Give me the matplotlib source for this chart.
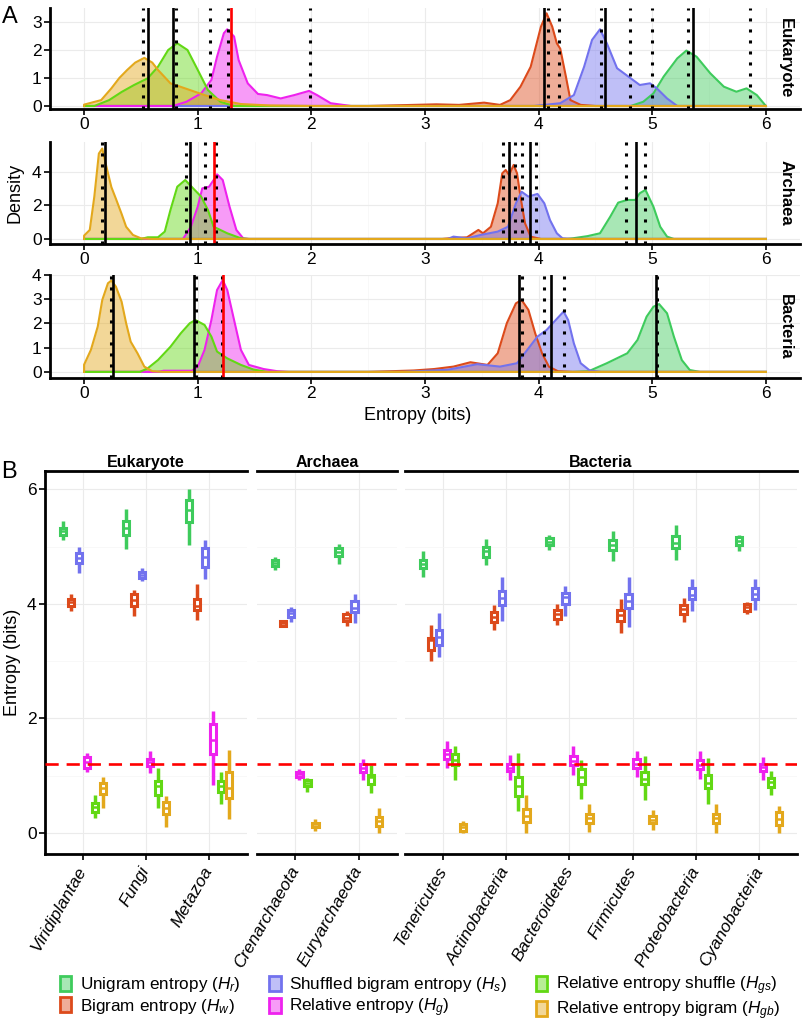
import matplotlib
matplotlib.use("Agg")
import matplotlib.pyplot as plt
from matplotlib.patches import Patch
from matplotlib.colors import to_rgba
from matplotlib.ticker import MultipleLocator

plt.rcParams['font.family'] = ['Liberation Sans', 'DejaVu Sans']
plt.rcParams['mathtext.fontset'] = 'custom'
plt.rcParams['mathtext.rm'] = 'Liberation Sans'
plt.rcParams['mathtext.it'] = 'Liberation Sans:italic'

# ------------------------
# data
# ------------------------
measures = ['Unigram entropy ($H_r$)', 'Bigram entropy ($H_w$)',
            'Shuffled bigram entropy ($H_s$)', 'Relative entropy ($H_g$)',
            'Relative entropy shuffle ($H_{gs}$)', 'Relative entropy bigram ($H_{gb}$)']
colors = ['#3ecb5c', '#dc4a1b', '#7272ee', '#ee22ee', '#62d814', '#e3a81c']

# panel A: density curves, (entropy, density)
euk_r = [(0, 0), (4.81, 0), (4.92, 0.15), (5.01, 0.45), (5.10, 1.05), (5.22, 1.70), (5.30, 1.98),
         (5.39, 1.76), (5.51, 1.17), (5.63, 0.69), (5.74, 0.51), (5.83, 0.63), (5.92, 0.39), (6.0, 0)]
euk_w = [(0, 0), (2.5, 0), (2.9, 0.04), (3.1, 0.06), (3.3, 0.04), (3.52, 0.12), (3.66, 0.04),
         (3.75, 0.21), (3.84, 0.69), (3.93, 1.40), (4.02, 2.83), (4.07, 3.31), (4.12, 2.83),
         (4.16, 2.24), (4.19, 2.05), (4.24, 1.05), (4.28, 0.21), (4.37, 0.04), (4.5, 0), (6, 0)]
euk_s = [(0, 0), (3.96, 0), (4.19, 0.1), (4.31, 0.39), (4.40, 1.40), (4.47, 2.36), (4.54, 2.74),
         (4.60, 2.24), (4.69, 1.35), (4.81, 0.99), (4.89, 0.75), (4.98, 0.81), (5.04, 0.63),
         (5.13, 0.27), (5.22, 0), (6, 0)]
euk_g = [(0, 0), (0.78, 0), (0.9, 0.15), (1.03, 0.45), (1.12, 0.93), (1.17, 1.76), (1.23, 2.6),
         (1.26, 2.74), (1.32, 2.48), (1.36, 1.64), (1.44, 0.81), (1.53, 0.43), (1.61, 0.39),
         (1.73, 0.27), (1.85, 0.39), (1.98, 0.54), (2.05, 0.39), (2.17, 0.1), (2.35, 0), (6, 0)]
euk_gs = [(0, 0), (0.09, 0), (0.22, 0.21), (0.33, 0.5), (0.44, 0.75), (0.56, 0.99), (0.65, 1.40),
          (0.74, 2.0), (0.82, 2.24), (0.91, 2.0), (1.0, 1.29), (1.09, 0.57), (1.2, 0.15),
          (1.32, 0), (6, 0)]
euk_gb = [(0, 0), (0.0, 0.05), (0.15, 0.21), (0.24, 0.63), (0.31, 1.0), (0.38, 1.29), (0.45, 1.55),
          (0.53, 1.72), (0.60, 1.55), (0.65, 1.29), (0.76, 0.81), (0.91, 0.60), (1.06, 0.39),
          (1.20, 0.21), (1.38, 0.07), (1.63, 0.02), (2.0, 0), (6, 0)]

arc_r = [(0, 0), (4.25, 0), (4.30, 0.04), (4.43, 0.17), (4.54, 0.34), (4.63, 1.33), (4.70, 2.17),
         (4.78, 2.33), (4.85, 2.33), (4.89, 2.73), (4.94, 2.93), (5.01, 1.93), (5.07, 0.73),
         (5.13, 0.14), (5.19, 0), (6, 0)]
arc_w = [(0, 0), (3.15, 0), (3.22, 0.04), (3.37, 0.1), (3.47, 0.54), (3.51, 0.34), (3.58, 0.73),
         (3.64, 2.13), (3.68, 3.92), (3.71, 4.12), (3.74, 3.82), (3.78, 4.42), (3.81, 3.92),
         (3.84, 2.53), (3.88, 0.94), (3.93, 0.14), (4.02, 0), (6, 0)]
arc_s = [(0, 0), (3.2, 0), (3.25, 0.14), (3.37, 0.04), (3.49, 0.24), (3.64, 0.44), (3.73, 0.73),
         (3.80, 2.13), (3.85, 2.82), (3.91, 2.53), (3.99, 2.69), (4.05, 2.13), (4.10, 1.13),
         (4.16, 0.34), (4.21, 0.04), (4.3, 0), (6, 0)]
arc_g = [(0, 0), (0.87, 0), (0.94, 0.73), (1.0, 1.93), (1.04, 3.02), (1.10, 3.12), (1.15, 3.62),
         (1.17, 3.86), (1.22, 3.52), (1.28, 1.93), (1.34, 0.54), (1.40, 0.04), (1.45, 0), (6, 0)]
arc_gs = [(0, 0), (0.5, 0), (0.56, 0.1), (0.65, 0.1), (0.71, 0.44), (0.76, 1.73), (0.82, 3.12),
          (0.89, 3.52), (0.96, 3.02), (1.03, 2.53), (1.09, 1.73), (1.14, 0.73), (1.26, 0.34),
          (1.38, 0.04), (1.45, 0), (6, 0)]
arc_gb = [(0, 0), (0, 0.2), (0.05, 0.54), (0.09, 2.53), (0.13, 5.1), (0.16, 5.4), (0.19, 4.5),
          (0.24, 3.1), (0.28, 2.4), (0.33, 1.5), (0.37, 0.73), (0.43, 0.24), (0.5, 0.04),
          (0.6, 0), (6, 0)]

bac_r = [(0, 0), (4.3, 0), (4.44, 0.03), (4.60, 0.36), (4.78, 0.77), (4.87, 1.32), (4.95, 2.28),
         (5.01, 2.69), (5.06, 2.80), (5.13, 2.42), (5.19, 1.46), (5.26, 0.49), (5.33, 0.08),
         (5.42, 0), (6, 0)]
bac_w = [(0, 0), (2.5, 0), (2.9, 0.06), (3.08, 0.12), (3.25, 0.22), (3.40, 0.40), (3.55, 0.29),
         (3.64, 0.77), (3.72, 2.01), (3.80, 2.83), (3.85, 2.97), (3.91, 2.56), (3.97, 1.59),
         (4.03, 0.77), (4.09, 0.22), (4.17, 0.03), (4.3, 0), (6, 0)]
bac_s = [(0, 0), (2.8, 0), (3.2, 0.09), (3.46, 0.32), (3.66, 0.22), (3.81, 0.36), (3.90, 0.91),
         (3.99, 1.46), (4.07, 1.73), (4.15, 2.14), (4.22, 2.49), (4.26, 2.14), (4.31, 1.18),
         (4.37, 0.36), (4.45, 0.06), (4.55, 0), (6, 0)]
bac_g = [(0, 0), (0.65, 0), (0.7, 0.05), (0.95, 0.05), (1.0, 0.22), (1.06, 0.91), (1.12, 2.14),
         (1.17, 3.38), (1.22, 3.79), (1.26, 3.38), (1.32, 2.14), (1.38, 0.91), (1.45, 0.29),
         (1.58, 0.12), (1.70, 0.03), (1.8, 0), (6, 0)]
bac_gs = [(0, 0), (0.49, 0), (0.56, 0.15), (0.65, 0.49), (0.76, 1.04), (0.85, 1.59), (0.93, 2.01),
          (0.98, 2.14), (1.06, 1.94), (1.12, 1.46), (1.17, 0.84), (1.26, 0.56), (1.38, 0.29),
          (1.49, 0.1), (1.61, 0), (6, 0)]
bac_gb = [(0, 0), (0, 0.3), (0.06, 0.91), (0.12, 1.87), (0.16, 2.97), (0.21, 3.66), (0.24, 3.77),
          (0.28, 3.52), (0.33, 2.90), (0.37, 2.01), (0.41, 1.25), (0.47, 0.77), (0.53, 0.22),
          (0.6, 0.03), (0.7, 0), (6, 0)]

# vertical reference lines in panel A
euk_solid = [0.56, 0.78, 4.05, 4.58, 5.36]
euk_red = [1.29]
euk_dotted = [0.515, 0.81, 1.11, 1.27, 1.99, 4.08, 4.18, 4.55, 4.80, 5.00, 5.31, 5.86]
arc_solid = [0.18, 0.93, 3.74, 3.92, 4.86]
arc_red = [1.14]
arc_dotted = [0.16, 0.90, 1.06, 1.16, 3.69, 3.79, 3.85, 3.98, 4.77, 4.94]
bac_solid = [0.25, 0.97, 3.83, 4.11, 5.03]
bac_red = [1.22]
bac_dotted = [0.235, 0.985, 1.21, 3.85, 4.05, 4.22, 5.04]

# panel B: (lower whisker, q1, median, q3, upper whisker) per taxon
euk_cats = ['Viridiplantae', 'Fungi', 'Metazoa']
arc_cats = ['Crenarchaeota', 'Euryarchaeota']
bac_cats = ['Tenericutes', 'Actinobacteria', 'Bacteroidetes', 'Firmicutes',
            'Proteobacteria', 'Cyanobacteria']

box_r = [(5.12, 5.20, 5.27, 5.33, 5.44), (4.95, 5.20, 5.33, 5.44, 5.66), (5.03, 5.43, 5.64, 5.82, 6.00),
         (4.59, 4.66, 4.72, 4.76, 4.81), (4.70, 4.83, 4.91, 4.98, 5.04),
         (4.47, 4.62, 4.70, 4.77, 4.92), (4.68, 4.82, 4.92, 4.99, 5.14), (4.94, 5.02, 5.08, 5.15, 5.21),
         (4.75, 4.94, 5.03, 5.11, 5.27), (4.77, 4.98, 5.07, 5.19, 5.38), (4.92, 5.03, 5.09, 5.16, 5.21)]
box_w = [(3.88, 3.96, 4.03, 4.09, 4.18), (3.79, 3.96, 4.07, 4.17, 4.24), (3.72, 3.89, 3.97, 4.09, 4.35),
         (3.59, 3.61, 3.67, 3.70, 3.72), (3.61, 3.70, 3.76, 3.82, 3.88),
         (3.01, 3.20, 3.37, 3.41, 3.63), (3.55, 3.69, 3.78, 3.85, 3.98), (3.64, 3.74, 3.82, 3.89, 4.00),
         (3.50, 3.70, 3.81, 3.89, 4.09), (3.69, 3.82, 3.91, 3.98, 4.11), (3.83, 3.88, 3.95, 4.00, 4.03)]
box_s = [(4.54, 4.71, 4.80, 4.88, 5.00), (4.40, 4.46, 4.51, 4.56, 4.62), (4.44, 4.64, 4.82, 4.98, 5.11),
         (3.69, 3.77, 3.84, 3.90, 3.95), (3.66, 3.86, 3.92, 4.05, 4.17),
         (3.08, 3.29, 3.42, 3.54, 3.84), (3.70, 3.98, 4.11, 4.22, 4.47), (3.79, 4.00, 4.12, 4.19, 4.31),
         (3.60, 3.92, 4.05, 4.18, 4.47), (3.88, 4.08, 4.16, 4.28, 4.44), (3.90, 4.09, 4.17, 4.28, 4.44)]
box_g = [(1.07, 1.14, 1.24, 1.32, 1.39), (1.04, 1.17, 1.24, 1.30, 1.43), (0.84, 1.38, 1.63, 1.91, 2.13),
         (0.93, 0.98, 1.03, 1.07, 1.11), (0.92, 1.07, 1.14, 1.21, 1.30),
         (1.14, 1.30, 1.38, 1.45, 1.61), (0.92, 1.08, 1.14, 1.21, 1.36), (1.02, 1.19, 1.26, 1.34, 1.52),
         (0.97, 1.13, 1.21, 1.29, 1.43), (0.94, 1.11, 1.19, 1.27, 1.43), (0.93, 1.08, 1.15, 1.21, 1.32)]
box_gs = [(0.26, 0.37, 0.46, 0.53, 0.66), (0.43, 0.66, 0.82, 0.90, 1.14), (0.51, 0.72, 0.82, 0.90, 1.07),
          (0.72, 0.82, 0.88, 0.93, 0.96), (0.70, 0.85, 0.98, 1.02, 1.19),
          (0.92, 1.19, 1.28, 1.38, 1.52), (0.39, 0.65, 0.82, 0.97, 1.39), (0.60, 0.86, 0.98, 1.11, 1.27),
          (0.58, 0.85, 0.95, 1.07, 1.34), (0.51, 0.79, 0.87, 1.02, 1.31), (0.66, 0.81, 0.89, 0.96, 1.08)]
box_gb = [(0.43, 0.68, 0.78, 0.87, 0.98), (0.11, 0.34, 0.43, 0.55, 0.65), (0.25, 0.62, 0.78, 1.07, 1.45),
          (0.04, 0.10, 0.15, 0.18, 0.24), (0.00, 0.12, 0.21, 0.28, 0.43),
          (0.00, 0.04, 0.10, 0.15, 0.21), (0.00, 0.20, 0.30, 0.42, 0.66), (0.02, 0.18, 0.26, 0.34, 0.51),
          (0.05, 0.17, 0.23, 0.29, 0.40), (0.00, 0.17, 0.26, 0.33, 0.51), (0.00, 0.14, 0.24, 0.36, 0.47)]
mean_relative = 1.2

# ------------------------
# layout helpers
# ------------------------
W, H = 802, 1022
fig = plt.figure(figsize=(W / 100, H / 100), dpi=100)
FS = 12.5


def axes_px(l, t, r, b):
    return fig.add_axes([l / W, 1 - b / H, (r - l) / W, (b - t) / H])


def style_axes(ax, left=True):
    for s in ['top', 'right']:
        ax.spines[s].set_visible(False)
    ax.spines['bottom'].set_linewidth(2)
    ax.spines['left'].set_linewidth(2)
    ax.spines['left'].set_visible(left)
    ax.tick_params(length=4, width=1.2, labelsize=FS, colors='black', pad=2)
    ax.tick_params(which='minor', length=0)
    ax.set_axisbelow(True)
    ax.grid(True, which='major', color='#ebebeb', lw=0.8)
    ax.grid(True, which='minor', color='#f6f6f6', lw=0.5)


# ------------------------
# panel A
# ------------------------
dens_a = [
    ('Eukaryote', [euk_r, euk_w, euk_s, euk_g, euk_gs, euk_gb], euk_solid, euk_red, euk_dotted,
     (8, 109), (-0.107, 3.5), [0, 1, 2, 3]),
    ('Archaea', [arc_r, arc_w, arc_s, arc_g, arc_gs, arc_gb], arc_solid, arc_red, arc_dotted,
     (142, 244), (-0.30, 5.79), [0, 2, 4]),
    ('Bacteria', [bac_r, bac_w, bac_s, bac_g, bac_gs, bac_gb], bac_solid, bac_red, bac_dotted,
     (275, 378), (-0.25, 4.0), [0, 1, 2, 3, 4]),
]

for name, curves, solid, red, dotted, (t, b), ylim, yt in dens_a:
    ax = axes_px(50, t, 800, b)
    style_axes(ax)
    for pts, c in zip(curves, colors):
        xs = [p[0] for p in pts]
        ys = [p[1] for p in pts]
        ax.fill_between(xs, 0, ys, color=c, alpha=0.45, lw=0)
        ax.plot(xs, ys, color=c, lw=1.5)
    for v in dotted:
        ax.axvline(v, color='black', lw=2.2, linestyle=(0, (1, 2.6)), dash_capstyle='butt')
    for v in solid:
        ax.axvline(v, color='black', lw=1.9)
    for v in red:
        ax.axvline(v, color='#ff0000', lw=1.9)
    ax.set_xlim(-0.3, 6.3)
    ax.set_ylim(*ylim)
    ax.set_xticks(range(7))
    ax.set_yticks(yt)
    ax.xaxis.set_minor_locator(MultipleLocator(0.5))
    ax.text(0.981, 0.5, name, transform=ax.transAxes, rotation=-90, ha='center', va='center',
            fontsize=12, fontweight='bold')

fig.text(10 / W, 1 - 17 / H, 'A', fontsize=17, ha='center', va='center')
fig.text(15 / W, 1 - 193 / H, 'Density', fontsize=13, rotation=90, ha='center', va='center')
fig.text(418 / W, 1 - 415 / H, 'Entropy (bits)', fontsize=13, ha='center', va='center')

# ------------------------
# panel B
# ------------------------
boxes = [box_r, box_w, box_s, box_g, box_gs, box_gb]
panels_b = [('Eukaryote', euk_cats, 0, 45, 247), ('Archaea', arc_cats, 3, 257, 397),
            ('Bacteria', bac_cats, 5, 405, 797)]

for k, (name, cats, start, l, r) in enumerate(panels_b):
    ax = axes_px(l, 471, r, 854)
    style_axes(ax, left=(k == 0))
    ax.spines['top'].set_visible(True)
    ax.spines['top'].set_linewidth(2)
    for j, (vals, c) in enumerate(zip(boxes, colors)):
        stats = []
        pos = []
        for i in range(len(cats)):
            lo, q1, med, q3, hi = vals[start + i]
            stats.append(dict(whislo=lo, q1=q1, med=med, q3=q3, whishi=hi))
            pos.append(i + (j - 2.5) * 0.127)
        ax.bxp(stats, positions=pos, widths=0.105, showfliers=False, showcaps=False,
               patch_artist=True, manage_ticks=False,
               boxprops=dict(facecolor='white', edgecolor=c, linewidth=2.2),
               medianprops=dict(color=c, linewidth=1.8),
               whiskerprops=dict(color=c, linewidth=2.5, solid_capstyle='butt'))
    ax.axhline(mean_relative, color='#ff0000', lw=1.9, linestyle=(0, (5, 3)), zorder=5)
    ax.set_xlim(-0.6, len(cats) - 0.4)
    ax.set_ylim(-0.366, 6.32)
    ax.set_yticks([0, 2, 4, 6])
    ax.yaxis.set_minor_locator(MultipleLocator(1))
    ax.set_xticks(range(len(cats)))
    ax.set_xticklabels(cats, rotation=60, ha='right', va='center', rotation_mode='anchor',
                       style='italic', fontsize=FS)
    ax.tick_params(axis='x', pad=6)
    if k > 0:
        ax.tick_params(axis='y', which='both', left=False, labelleft=False)
    ax.set_title(name, fontweight='bold', fontsize=11.5, pad=3)

fig.text(9 / W, 1 - 472 / H, 'B', fontsize=17, ha='center', va='center')
fig.text(13 / W, 1 - 662 / H, 'Entropy (bits)', fontsize=13, rotation=90, ha='center', va='center')

handles = [Patch(facecolor=to_rgba(c, 0.45), edgecolor=c, linewidth=2) for c in colors]
fig.legend(handles, measures, ncol=3, loc='center', bbox_to_anchor=(420 / W, 1 - 998 / H),
           frameon=False, fontsize=12.3, handlelength=0.65, handleheight=1.0, handletextpad=0.5,
           columnspacing=1.7, labelspacing=0.15, borderpad=0)

fig.savefig('out.png', dpi=100)
